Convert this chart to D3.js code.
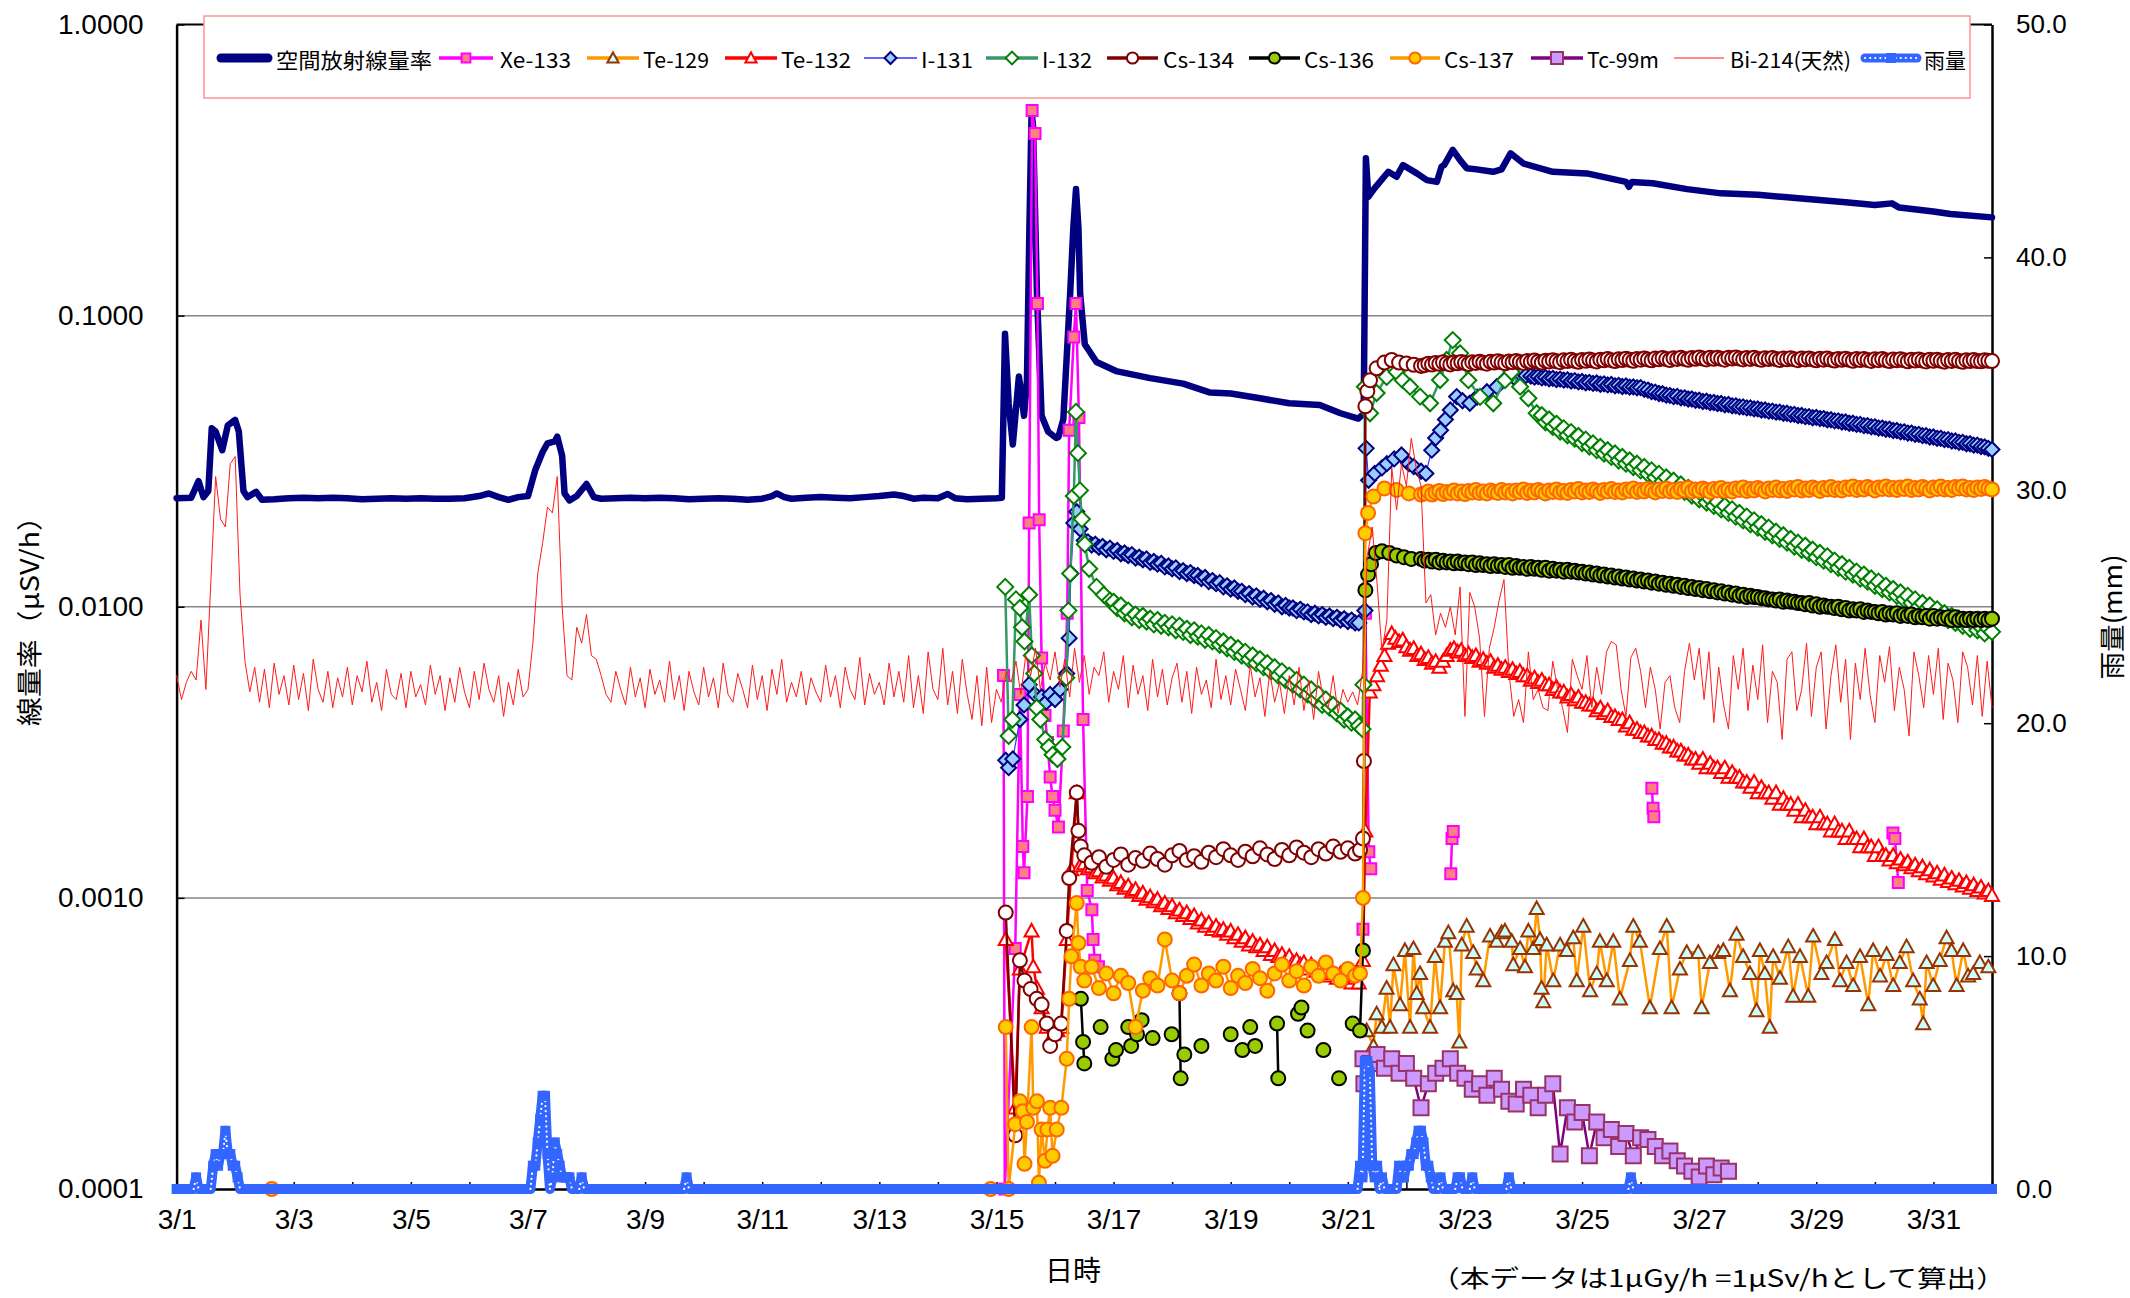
<!DOCTYPE html>
<html><head><meta charset="utf-8">
<script src="https://cdn.jsdelivr.net/npm/d3@7"></script>
<style>body{margin:0;background:#fff}</style>
</head><body>
<svg id="chart" width="2130" height="1298"></svg>
<script>
// ---------------- DATA (time = hours since 3/1 00:00) ----------------
const xTickLabels = ["3/1","3/3","3/5","3/7","3/9","3/11","3/13","3/15","3/17","3/19","3/21","3/23","3/25","3/27","3/29","3/31"];
const yTickValues = [0.0001,0.001,0.01,0.1,1];
const yTickLabels = ["0.0001","0.0010","0.0100","0.1000","1.0000"];
const rainTickValues = [0,10,20,30,40,50];
const rainTickLabels = ["0.0","10.0","20.0","30.0","40.0","50.0"];
const seriesNames = ["空間放射線量率","Xe-133","Te-129","Te-132","I-131","I-132","Cs-134","Cs-136","Cs-137","Tc-99m","Bi-214(天然)","雨量"];

// regular sampling helper: start hour, step hours, read values
const seg = (h0, step, vals) => vals.map((v, i) => [h0 + i * step, v]);

const doseData = [[0,.0236],[6,.0237],[9,.0270],[11,.0238],[13,.0250],[14.4,.0410],[16,.0400],[18.7,.0345],[21,.0420],[24,.0438],[25.5,.0400],[27.4,.0250],[29,.0238],[32.6,.0248],[35,.0233],[40,.0234],[46,.0236],[52,.0237],[58,.0236],[64,.0237],[70,.0236],[76,.0234],[82,.0235],[88,.0236],[94,.0235],[100,.0236],[106,.0235],[112,.0235],[118,.0236],[124,.0240],[128,.0245],[132,.0238],[136,.0233],[140,.0238],[144,.0240],[147,.0295],[150,.0340],[152,.0364],[155,.0370],[156,.0384],[158,.0330],[159,.0245],[161,.0232],[164,.0240],[168,.0264],[171,.0238],[174,.0235],[180,.0236],[186,.0237],[192,.0236],[198,.0237],[204,.0236],[210,.0234],[216,.0235],[222,.0236],[228,.0235],[234,.0233],[240,.0235],[244,.0240],[246,.0245],[249,.0238],[252,.0235],[258,.0237],[264,.0238],[270,.0237],[276,.0236],[282,.0238],[288,.0240],[294,.0243],[298,.0240],[302,.0235],[306,.0237],[312,.0236],[316,.0244],[319,.0236],[324,.0234],[330,.0235],[336,.0236],[338.2,.0237],[339.5,.0867],[341,.0500],[342.7,.0361],[345.2,.0618],[347.3,.0453],[348.5,.0600],[349.5,.2000],[350.4,.5000],[351,.4500],[352.6,.1190],[354.5,.0453],[357.2,.0399],[360.5,.0380],[361.4,.0383],[363.4,.0440],[366.2,.1190],[367.5,.2000],[368.6,.2720],[369.6,.2000],[370.3,.1190],[372.2,.0797],[377,.0693],[385,.0645],[399,.0610],[412.5,.0584],[423.6,.0544],[432,.0540],[444,.0520],[456,.0500],[468.5,.0493],[477,.0462],[484.3,.0443],[486.5,.0460],[487.4,.3470],[488.4,.2560],[491,.2740],[496.6,.3120],[500,.3000],[502.6,.3290],[508.3,.3080],[512.4,.2920],[516.5,.2880],[518.4,.3250],[519.6,.3300],[523,.3710],[526,.3420],[528.7,.3210],[532.8,.3180],[539.5,.3120],[543,.3180],[546.7,.3610],[552,.3330],[564,.3120],[578,.3080],[594,.2880],[595.2,.2770],[596.4,.2880],[605,.2850],[619,.2720],[633,.2630],[648,.2600],[660,.2550],[672,.2500],[684,.2450],[696,.2400],[703,.2430],[706,.2350],[720,.2280],[727,.2234],[744,.2175]];

const xe133 = [[338.9,.0058],[339.4,.0001],[343.7,.00067],[345.6,.0050],[346.8,.0015],[347.3,.00122],[348.7,.00223],[349.4,.0194],[350.6,.507],[351.8,.422],[352.8,.110],[353.5,.0199],[354.5,.00667],[355.9,.00423],[356.9,.00342],[358,.0026],[359,.00223],[360,.0020],[361.4,.00175],[363.4,.00374],[365,.0095],[365.8,.0404],[367.7,.0844],[368.6,.110],[369.8,.0447],[371.5,.0041],[373.2,.00106],[375.1,.00091],[375.6,.00072],[376.3,.00061],[377.8,.00058],null,
 [486.2,.00078],[487.2,.0095],[488.6,.00144],[489.4,.00126],null,
 [522.2,.00121],[522.7,.0016],[523.2,.00169],null,
 [604.6,.00238],[605.1,.00203],[605.4,.0019],null,
 [703.4,.00167],[704.2,.0016],[705.6,.00113]];

const te129 = [[487.7,.00035],[490.5,.00031],[491.8,.00040],[493.9,.00036],[495.9,.00049],[497.3,.00036],[498.7,.00059],[501.4,.00043],[503.4,.00066],[505.5,.00036],[506.9,.00067],[508.2,.00047],[509.6,.00055],[510.9,.00042],[513.7,.00036],[515.7,.00063],[517.8,.00042],[519.8,.00071],[521.2,.00076],[523.2,.00048],[524.6,.00047],[525.7,.00032],[526.7,.00069],[528.7,.00080],[531.4,.00065],[532.8,.00057],[535.5,.00052],[538.3,.00074],[541.0,.00071],[543.0,.00076],[544.4,.00077],[547.2,.00071],[547.8,.00059],[550.6,.00067],[552.6,.00058],[554.0,.00077],[556.0,.00067],[557.4,.00092],[558.8,.00072],[559.4,.00049],[560.1,.00044],[561.5,.00069],[564.2,.00052],[567.0,.00069],[569.7,.00066],[572.4,.00073],[573.8,.00052],[576.5,.00080],[579.3,.00048],[582.0,.00055],[583.3,.00071],[586.1,.00052],[588.8,.00071],[591.5,.00045],[595.6,.00061],[597.0,.00080],[599.7,.00071],[603.8,.00042],[607.9,.00067],[610.7,.00080],[612.7,.00042],[616.1,.00057],[618.9,.00065],[623.6,.00065],[625.0,.00042],[628.4,.00060],[631.8,.00065],
 [633.9,.00066],[636.6,.00048],[639.3,.00075],[642.0,.00063],[644.8,.00055],[647.5,.00041],[648.9,.00066],[650.9,.00055],[652.9,.00036],[654.3,.00063],[657.1,.00053],[660.5,.00068],[662.5,.00046],[665.3,.00063],[668.7,.00046],[670.7,.00074],[674.1,.00055],[676.2,.00060],[679.6,.00072],[681.7,.00052],[684.4,.00060],[687.1,.00050],[689.9,.00063],[693.3,.00043],[695.3,.00066],[698.1,.00054],[700.8,.00064],[703.5,.00050],[706.2,.00060],[709.0,.00068],[711.7,.00052],[714.4,.00045],[715.8,.00037],[717.2,.00060],[719.9,.00050],[722.6,.00061],[725.4,.00073],[727.4,.00066],[729.5,.00050],[732.2,.00066],[734.2,.00054],[736.3,.00055],[739.0,.00060],[742.5,.00058]];

const te132 = [[339.8,.00072],[343.7,.00019],[345.6,.00057],[350.4,.00077],[351.1,.00058],[352.6,.00049],[354.5,.00042],[356.6,.00036],[359.3,.00034],[361,.00035],[362.6,.00036],[364.8,.00072],[366.7,.00125],[368.9,.0023],[370.3,.00129],
 ...seg(372,1.5,[.00131,.00126,.00128,.00122,.00124,.00118,.00120,.00115,.00117,.00111,
  .00113,.00108,.00110,.00105,.00107,.00102,.00104,.00099,.00101,.00097,
  .00099,.00094,.00096,.00092,.00094,.00089,.00091,.00087,.00089,.00085,
  .00087,.00082,.00084,.00080,.00082,.00078,.00080,.00077,.00078,.00075,
  .00077,.00073,.00075,.00071,.00073,.00069,.00071,.00068,.00069,.00066,
  .00068,.00064,.00066,.00063,.00064,.00061,.00063,.00060,.00061,.00059,
  .00060,.00057,.00059,.00056,.00057,.00055,.00056,.00054,.00055,.00053,
  .00055,.00052,.00054,.00051,.00053,.00051]),
 [486.2,.00061],[487.2,.0017],
 ...seg(489,1.5,[.0051,.0054,.0058,.0063,.0068,.0075,.0081,.0078,.0076,.0077,
  .0073,.0071,.0072,.0068,.0069,.0066,.0067,.0064,.0065,.0062,
  .0065,.0068,.0071,.0072,.0070,.0071,.0068,.0069,.0067,.0068,
  .0065,.0066,.0064,.0065,.0062,.0063,.0061,.0062,.0060,.0061,
  .0059,.0060,.0058,.0058,.0056,.0057,.0055,.0056,.0054,.0054,
  .0052,.0053,.0051,.0051,.0049,.0050,.0048,.0049,.0047,.0047,
  .0046,.0046,.0044,.0045,.0043,.0044,.0042,.0042,.0041,.0041,
  .0039,.0040,.0038,.0038,.0037,.0037,.0036,.0036,.0035,.0035,
  .0034,.0034,.0033,.0033,.0032,.0032,.0031,.0031,.0030,.0030,
  .0029,.0030,.0028,.0029,.0028,.0028,.0027,.0028,.0026,.0027,
  .0026,.0026,.0025,.0025,.0024,.0025,.0023,.0024,.0023,.0023,
  .0022,.0023,.0021,.0022,.0021,.0021,.0020,.0021,.0019,.0020,
  .0019,.0019,.0018,.0019,.0018,.0018,.0017,.0018,.0017,.0017,
  .0016,.0017,.0016,.0016,.0015,.0016,.0015,.0015,.0014,.0015,
  .0014,.0014,.00135,.0014,.00132,.00136,.0013,.00133,.00127,.0013,
  .00124,.00128,.00121,.00125,.00119,.00122,.00116,.0012,.00114,.00117,
  .00112,.00115,.0011,.00113,.00108,.00111,.00106,.00109,.00104,.00106,
  .00102])];

const i131 = [[339.8,.00297],[341,.0028],[342.7,.0030],[345.6,.0041],[347.3,.0046],[349.4,.0054],[351.8,.0050],[354.5,.0049],[356.4,.0047],[358,.0050],[360,.0048],[362,.0052],[364.8,.0059],[365.8,.0078],[366.5,.013],[367.7,.0194],[368.9,.0212],[370.3,.0185],[372,.0169],
 ...seg(373.5,1.5,[.0167,.0163,.0164,.0160,.0161,.0157,.0159,.0155,.0156,.0152,
  .0153,.0150,.0151,.0147,.0148,.0145,.0146,.0142,.0143,.0140,
  .0141,.0137,.0138,.0135,.0136,.0132,.0133,.0130,.0131,.0128,
  .0128,.0125,.0126,.0122,.0123,.0120,.0121,.0117,.0118,.0115,
  .0116,.0113,.0113,.0110,.0111,.0108,.0109,.0106,.0107,.0104,
  .0105,.0102,.0103,.0100,.0101,.0099,.0099,.0097,.0098,.0096,
  .0096,.0094,.0095,.0093,.0094,.0092,.0093,.0091,.0092,.0090,
  .0091,.0089,.0090,.0088,.0088]),
 [487,.0097],[487.5,.035],[488.5,.0272],[491,.0287],[494,.030],[496,.031],[499,.0322],[502,.0332],[505,.031],[507,.0303],[510,.0292],[512,.0287],[514.4,.0345],[516,.0380],[518,.0404],[520,.0440],[522,.0474],[524.6,.0527],[527,.0510],[530,.0500],[533,.0525],[537,.0548],[541,.057],[545,.061],[548,.0615],[551,.0626],[553,.0622],
 ...seg(555,1.5,[.0620,.0615,.0617,.0611,.0613,.0607,.0609,.0603,.0605,.0600,
  .0602,.0596,.0598,.0592,.0594,.0588,.0590,.0585,.0587,.0581,
  .0583,.0578,.0580,.0574,.0576,.0571,.0573,.0568,.0569,.0565,
  .0566,.0558,.0555,.0548,.0546,.0540,.0539,.0533,.0532,.0527,
  .0528,.0522,.0522,.0517,.0517,.0512,.0512,.0507,.0508,.0503,
  .0503,.0499,.0499,.0494,.0495,.0490,.0490,.0486,.0486,.0482,
  .0482,.0478,.0478,.0474,.0474,.0470,.0470,.0466,.0466,.0462,
  .0462,.0458,.0458,.0454,.0454,.0450,.0450,.0446,.0447,.0443,
  .0443,.0439,.0439,.0435,.0435,.0431,.0431,.0427,.0427,.0423,
  .0423,.0419,.0419,.0415,.0415,.0411,.0411,.0407,.0407,.0403,
  .0403,.0399,.0399,.0395,.0395,.0391,.0391,.0387,.0387,.0383,
  .0383,.0379,.0379,.0375,.0375,.0371,.0371,.0367,.0367,.0363,
  .0363,.0359,.0359,.0355,.0354,.0350,.0347])];

const i132 = [[339.6,.0117],[341,.0036],[342.5,.0041],[344,.0106],[345.6,.0099],[346.5,.0085],[347.5,.0076],[349.4,.011],[350.5,.0068],[351.5,.0059],[352.5,.0045],[354,.0041],[356,.0035],[357.5,.0033],[359,.0031],[361,.0030],[363,.0033],[364.6,.0057],[365.5,.0097],[366.2,.013],[367.7,.024],[368.6,.0467],[369.4,.0337],[370.2,.0251],[371,.020],[372.2,.0164],[374,.0135],[377,.0117],[380,.0110],[382.5,.0105],
 ...seg(384,1.5,[.0104,.0099,.0101,.0095,.0097,.0092,.0094,.0090,.0093,.0089,
  .0091,.0087,.0090,.0086,.0088,.0085,.0087,.0083,.0086,.0082,
  .0084,.0080,.0083,.0079,.0081,.0077,.0080,.0076,.0078,.0074,
  .0076,.0072,.0074,.0070,.0072,.0068,.0070,.0066,.0068,.0064,
  .0066,.0062,.0064,.0060,.0062,.0058,.0060,.0056,.0058,.0054,
  .0056,.0052,.0054,.0050,.0052,.0048,.0050,.0046,.0048,.0045,
  .0046,.0043,.0044,.0041,.0042,.0040,.0041,.0039]),
 [486,.0038],[486.4,.0054],[487,.057],[489.1,.0462],[491.8,.0542],[495.9,.0616],[500,.064],[502.5,.060],[505.5,.057],[509.6,.0527],[513.7,.050],[517.8,.0601],[520.5,.0704],[523,.0824],[526,.0742],[529.4,.060],[534.2,.0526],[539.6,.050],[544.4,.060],[547.1,.064],[550.6,.057],[554,.052],[557.4,.0462],
 ...seg(559.5,1.5,[.0455,.0430,.0440,.0415,.0425,.0400,.0410,.0388,.0398,.0378,
  .0386,.0365,.0375,.0355,.0364,.0345,.0354,.0336,.0345,.0327,
  .0336,.0318,.0327,.0310,.0318,.0302,.0310,.0294,.0302,.0286,
  .0294,.0278,.0286,.0270,.0278,.0262,.0271,.0255,.0263,.0248,
  .0256,.0241,.0249,.0234,.0242,.0228,.0235,.0222,.0229,.0216,
  .0222,.0210,.0216,.0204,.0210,.0198,.0204,.0192,.0198,.0187,
  .0192,.0181,.0187,.0176,.0181,.0171,.0176,.0166,.0171,.0161,
  .0166,.0157,.0162,.0153,.0157,.0148,.0153,.0144,.0149,.0140,
  .0144,.0136,.0140,.0132,.0136,.0129,.0132,.0125,.0129,.0122,
  .0125,.0118,.0122,.0115,.0118,.0112,.0115,.0109,.0112,.0106,
  .0109,.0103,.0106,.0100,.0103,.0098,.0101,.0095,.0098,.0093,
  .0095,.0090,.0093,.0088,.0091,.0086,.0089,.0084,.0087,.0083,
  .0085,.0081,.0084,.0082])];

const cs134 = [[339.8,.00089],[343.7,.000153],[345.6,.00061],[347.5,.00052],[350,.000486],[352.5,.00045],[354.5,.00043],[356.6,.00037],[358,.00031],[360,.00034],[362.5,.00037],[364.8,.00077],[365.8,.00117],[368.9,.0023],[369.6,.0017],[370.5,.0015],
 ...seg(372,3,[.0014,.00132,.00138,.00128,.00135,.00141,.0013,.00137,.00134,.00142,
  .00136,.0013,.0014,.00145,.00135,.00139,.00133,.00143,.00138,.00147,
  .0014,.00135,.00144,.00139,.00148,.00141,.00136,.00146,.0014,.00149,
  .00143,.00138,.00147,.00142,.0015,.00144,.00148,.00142]),
 [485,.00146],[486.2,.0016],[486.6,.00295],[487.2,.0488],[488,.055],[489.1,.060],[491.8,.0659],[495,.069],[498,.0704],[501,.069],[504,.0685],[507,.0678],[510,.0672],
 ...seg(511.5,1.5,[.0676,.0684,.0679,.0688,.0683,.0691,.0685,.0680,.0690,.0686,
  .0693,.0687,.0682,.0692,.0688,.0695,.0689,.0684,.0694,.0690,
  .0697,.0691,.0686,.0696,.0692,.0699,.0693,.0688,.0698,.0694,
  .0701,.0695,.0690,.0700,.0696,.0703,.0697,.0692,.0702,.0698,
  .0705,.0699,.0694,.0704,.0700,.0707,.0701,.0696,.0706,.0702,
  .0709,.0703,.0698,.0708,.0704,.0711,.0705,.0700,.0710,.0706,
  .0713,.0707,.0702,.0712,.0708,.0715,.0709,.0704,.0714,.0710,
  .0716,.0710,.0705,.0715,.0711,.0718,.0712,.0707,.0716,.0711,
  .0717,.0711,.0706,.0716,.0712,.0718,.0712,.0707,.0715,.0710,
  .0716,.0710,.0705,.0714,.0709,.0715,.0709,.0704,.0713,.0708,
  .0714,.0708,.0703,.0712,.0707,.0713,.0707,.0702,.0711,.0706,
  .0712,.0706,.0701,.0710,.0705,.0711,.0705,.0700,.0709,.0704,
  .0710,.0704,.0699,.0708,.0703,.0709,.0703,.0698,.0707,.0702,
  .0708,.0702,.0697,.0706,.0701,.0707,.0701,.0696,.0705,.0700,
  .0706,.0700,.0695,.0704,.0699,.0705,.0699,.0694,.0703,.0698,
  .0704,.0698,.0697,.0702,.0700,.0698])];

const cs136 = [[370.6,.00045],[371.5,.00032],[372,.00027],null,[378.7,.00036],null,[383.5,.00028],null,[385,.0003],null,[390,.00036],null,[391.2,.00031],null,[393.6,.00034],null,[395.5,.00038],null,[400,.00033],null,[407.8,.00034],null,[411,.00047],[411.5,.00024],null,[413,.00029],null,[420,.00031],null,[432,.00034],null,[436.8,.0003],null,[440,.00036],null,[442,.00031],null,[451,.00037],[451.5,.00024],null,[459.6,.0004],null,[461,.00042],null,[463.5,.00035],null,[470,.0003],null,[476.4,.00024],null,[482,.00037],null,
 [485,.00035],[486.2,.00066],[487.2,.0114],[488.3,.0129],[489.5,.014],[491.5,.0153],[494,.0155],[497,.0153],[500,.015],[503,.0148],[506,.0146],
 ...seg(510,1.5,[.0146,.0144,.0145,.0143,.0145,.0142,.0144,.0142,.0143,.0141,
  .0143,.0141,.0142,.0140,.0142,.0139,.0141,.0139,.0140,.0138,
  .0140,.0138,.0139,.0137,.0139,.0136,.0138,.0136,.0137,.0135,
  .0137,.0135,.0136,.0134,.0136,.0133,.0135,.0133,.0134,.0132,
  .0134,.0132,.0133,.0131,.0132,.0130,.0131,.0129,.0130,.0128,
  .0129,.0127,.0128,.0126,.0127,.0125,.0126,.0124,.0125,.0123,
  .0124,.0122,.0123,.0121,.0122,.0120,.0121,.0119,.0120,.0118,
  .0119,.0117,.0118,.0116,.0117,.0115,.0116,.0114,.0115,.0113,
  .0114,.0112,.0113,.0111,.0112,.0110,.0111,.0109,.0110,.0108,
  .0109,.0108,.0108,.0107,.0107,.0106,.0106,.0105,.0106,.0104,
  .0105,.0104,.0104,.0103,.0103,.0102,.0103,.0101,.0102,.0100,
  .0101,.0100,.0100,.0099,.0100,.0098,.0099,.0097,.0098,.0097,
  .0098,.0096,.0097,.0096,.0096,.0095,.0096,.0094,.0095,.0094,
  .0095,.0093,.0094,.0093,.0094,.0092,.0093,.0092,.0093,.0091,
  .0093,.0091,.0092,.0091,.0092,.0090,.0092,.0090,.0091,.0090,
  .0091,.0090,.0091,.0090,.0091,.0090,.0091])];

const cs137 = [[39,.0001],null,[333.6,.0001],null,
 [339.8,.00036],[341,.0001],[343.7,.000167],[345.6,.0002],[346.8,.000185],[347.5,.000122],[348.5,.00017],[350.4,.00036],[351.1,.00019],[352.6,.0002],[353.4,.000105],[354.5,.00016],[355.9,.000125],[356.9,.00016],[358,.00019],[359,.00013],[360.7,.00016],[362.6,.00019],[364.8,.00028],[365.8,.00045],[366.7,.00063],[368.9,.00096],[369.6,.0007],[370.5,.00058],
 ...seg(372,3,[.00052,.00058,.00049,.00055,.00047,.00054,.00051,.00036,.00048,.00053,
  .0005,.00072,.00052,.00047,.00054,.00059,.0005,.00055,.00052,.00058,
  .00049,.00054,.00051,.00057,.00053,.00048,.00055,.00059,.00052,.00056,
  .0005,.00058,.00054,.0006,.00055,.00052,.00057,.00054]),
 [485,.00055],[486.2,.001],[487.2,.0179],[488.3,.021],[490.5,.0239],[495,.0255],[500,.0252],[505,.0245],[510,.0243],
 ...seg(511.5,1.5,[.0245,.0249,.0243,.0247,.0250,.0244,.0248,.0246,.0251,.0245,
  .0249,.0244,.0250,.0247,.0252,.0246,.0249,.0245,.0251,.0248,
  .0246,.0252,.0247,.0250,.0245,.0251,.0248,.0253,.0246,.0250,
  .0247,.0252,.0249,.0245,.0251,.0248,.0253,.0247,.0250,.0246,
  .0252,.0249,.0254,.0247,.0251,.0248,.0253,.0250,.0246,.0252,
  .0249,.0254,.0248,.0251,.0247,.0253,.0250,.0255,.0248,.0252,
  .0249,.0254,.0251,.0247,.0253,.0250,.0255,.0249,.0252,.0248,
  .0254,.0251,.0256,.0249,.0253,.0250,.0255,.0252,.0248,.0254,
  .0251,.0256,.0250,.0253,.0249,.0255,.0252,.0257,.0250,.0254,
  .0251,.0256,.0253,.0249,.0255,.0252,.0257,.0251,.0254,.0250,
  .0256,.0253,.0258,.0251,.0255,.0252,.0257,.0254,.0250,.0256,
  .0253,.0258,.0252,.0255,.0251,.0257,.0254,.0259,.0252,.0256,
  .0253,.0258,.0255,.0251,.0257,.0254,.0259,.0253,.0256,.0252,
  .0257,.0254,.0259,.0252,.0256,.0253,.0258,.0255,.0251,.0257,
  .0254,.0259,.0253,.0256,.0252,.0258,.0255,.0259,.0253,.0256,
  .0252,.0257,.0254,.0258,.0255,.0253])];

const tc99m = [[486.2,.00028],[486.6,.00023],
 ...seg(489,3,[.00027,.00029,.00026,.00028,.00025,.00027,.00024,.00019,.00023,.00025,
  .00026,.00028,.00025,.00024,.00022,.00023,.00021,.00024,.00022,.0002,
  .000196,.00022,.00021,.00019,.00021,.00023,.000132,.00019,.00017,.000183,
  .00013,.00017,.00015,.00016,.00014,.000155,.00013,.00015,.000148,.00014,
  .00013,.000135,.000125,.00012,.000115,.00011,.00012,.000112,.000118,.000115])];

// Bi-214 on a 2-hour grid
const bi214 = seg(0,2,[
 .0058,.0048,.0055,.0060,.0056,.0090,.0052,.0120,.0280,.0200,.0188,.0310,
 .0328,.0110,.0065,.0051,.0062,.0047,.0061,.0045,.0064,.0050,.0058,.0046,
 .0063,.0048,.0059,.0044,.0066,.0052,.0047,.0060,.0045,.0057,.0049,.0062,
 .0046,.0058,.0051,.0065,.0047,.0055,.0044,.0061,.0050,.0048,.0059,.0045,
 .0060,.0049,.0054,.0046,.0063,.0050,.0058,.0044,.0057,.0047,.0062,.0051,
 .0045,.0060,.0048,.0064,.0052,.0047,.0058,.0042,.0055,.0046,.0061,.0049,
 .0052,.0075,.0130,.0165,.0220,.0210,.0280,.0100,.0058,.0056,.0085,.0075,
 .0094,.0068,.0066,.0058,.0050,.0047,.0060,.0052,.0046,.0062,.0049,.0057,
 .0045,.0061,.0050,.0056,.0047,.0065,.0048,.0058,.0044,.0060,.0051,.0046,
 .0062,.0049,.0057,.0045,.0064,.0050,.0047,.0059,.0052,.0045,.0063,.0048,
 .0058,.0044,.0061,.0050,.0066,.0047,.0055,.0049,.0060,.0046,.0057,.0051,
 .0047,.0063,.0049,.0058,.0045,.0062,.0052,.0048,.0067,.0046,.0059,.0050,
 .0055,.0046,.0064,.0049,.0060,.0047,.0068,.0045,.0058,.0043,.0070,.0052,
 .0048,.0072,.0046,.0060,.0043,.0066,.0050,.0041,.0058,.0039,.0062,.0040,
 .0052,.0047,.0060,.0055,.0065,.0050,.0068,.0058,.0072,.0052,.0064,.0056,
 .0070,.0053,.0066,.0049,.0072,.0055,.0068,.0050,.0062,.0058,.0070,.0047,
 .0060,.0052,.0068,.0045,.0063,.0050,.0058,.0044,.0066,.0049,.0061,.0046,
 .0057,.0064,.0047,.0060,.0043,.0062,.0050,.0056,.0045,.0066,.0048,.0058,
 .0046,.0061,.0052,.0044,.0063,.0049,.0057,.0042,.0060,.0047,.0055,.0043,
 .0058,.0046,.0062,.0044,.0056,.0041,.0060,.0048,.0045,.0058,.0043,.0052,
 .0047,.0051,.0046,.0060,.0150,.0188,.0120,.0070,.0090,.0300,.0215,.0310,
 .0260,.0379,.0300,.0260,.0103,.0110,.0080,.0095,.0085,.0100,.0080,.0117,
 .0042,.0112,.0100,.0078,.0042,.0072,.0085,.0105,.0124,.0060,.0042,.0048,
 .0040,.0070,.0048,.0052,.0045,.0044,.0065,.0052,.0045,.0037,.0066,.0058,
 .0052,.0068,.0045,.0062,.0050,.0070,.0076,.0074,.0052,.0042,.0067,.0072,
 .0060,.0045,.0062,.0052,.0038,.0055,.0058,.0045,.0040,.0060,.0075,.0056,
 .0072,.0048,.0070,.0040,.0062,.0046,.0038,.0068,.0052,.0072,.0044,.0063,
 .0048,.0074,.0040,.0060,.0055,.0035,.0066,.0070,.0044,.0052,.0075,.0042,
 .0062,.0070,.0038,.0058,.0074,.0047,.0066,.0035,.0064,.0048,.0072,.0050,
 .0040,.0068,.0055,.0073,.0044,.0062,.0052,.0036,.0070,.0058,.0045,.0068,
 .0050,.0072,.0041,.0064,.0056,.0040,.0070,.0062,.0046,.0068,.0042,.0065,
 .0045]);

// rain (mm), secondary axis
const rain = [[0,0],[7,0],[8,0.5],[9,0],[14,0],[15,1.0],[16,1.5],[17,1.0],[18,1.5],[19,1.5],[20,2.5],[21,1.5],[22,1.5],[23,1.0],[24,1.0],[25,0.5],[26,0],[145,0],[146,1.0],[147,1.0],[148,2.0],[149,3.0],[150,4.0],[151,4.0],[152,1.5],[153,0],[154,0.5],[155,2.0],[156,1.5],[157,1.0],[158,0.5],[159,0.5],[160,0.5],[161,0.5],[162,0],[165,0],[166,0.5],[167,0],[208,0],[209,0.5],[210,0],[484,0],[485,1.0],[486,0.5],[487,5.5],[488,5.5],[489,5.0],[490,1.0],[491,0.5],[492,1.0],[493,0],[494,0.5],[495,0],[500,0],[501,1.0],[502,0.5],[503,0.5],[504,1.0],[505,1.0],[506,1.5],[507,1.5],[508,2.0],[509,2.5],[510,2.5],[511,2.0],[512,1.0],[513,1.0],[514,0.5],[515,0],[517,0],[518,0.5],[519,0],[524,0],[525,0.5],[526,0.5],[527,0],[530,0],[531,0.5],[532,0],[545,0],[546,0.5],[547,0],[595,0],[596,0.5],[597,0],[744,0]];

// ---------------- LAYOUT ----------------
const W = 2130, H = 1298;
const L = 176.6, R = 1992, T = 24.5, B = 1189;
const svg = d3.select("#chart");
const x = d3.scaleLinear().domain([0, 744]).range([L, R]);
const y = d3.scaleLog().domain([0.0001, 1]).range([B, T]);
const yR = d3.scaleLinear().domain([0, 50]).range([B, T]);
const LATIN = '"Liberation Sans", Arial, sans-serif';
const JP = '"Noto Sans CJK JP", "Noto Sans", sans-serif';

svg.append("rect").attr("width", W).attr("height", H).attr("fill", "#fff");

// gridlines
svg.append("g").selectAll("line").data([0.001, 0.01, 0.1]).join("line")
  .attr("x1", L).attr("x2", R).attr("y1", d => y(d)).attr("y2", d => y(d))
  .attr("stroke", "#858585").attr("stroke-width", 1.5);
svg.append("line").attr("x1", L).attr("x2", R).attr("y1", T).attr("y2", T)
  .attr("stroke", "#000").attr("stroke-width", 2);

// axes
function styleAxis(g, size) {
  g.select(".domain").attr("stroke", "#000").attr("stroke-width", 2.5);
  g.selectAll(".tick line").attr("stroke", "#000").attr("stroke-width", 1.5);
  g.selectAll("text").attr("font-family", LATIN).attr("font-size", size).attr("fill", "#000");
}
const dayTicks = d3.range(0, 745, 24);
const gxT = svg.append("g").attr("transform", `translate(0,${B})`)
  .call(d3.axisBottom(x).tickValues(dayTicks).tickFormat("").tickSize(-7).tickSizeOuter(0));
styleAxis(gxT, 28);
const labelHours = xTickLabels.map((_, i) => i * 48);
const gxL = svg.append("g").attr("transform", `translate(0,${B})`)
  .call(d3.axisBottom(x).tickValues(labelHours).tickFormat((d, i) => xTickLabels[i]).tickSize(0).tickPadding(20));
gxL.select(".domain").remove();
styleAxis(gxL, 28);

const gyL = svg.append("g").attr("transform", `translate(${L},0)`)
  .call(d3.axisLeft(y).tickValues(yTickValues).tickFormat((d, i) => yTickLabels[i]).tickSize(-8).tickSizeOuter(0).tickPadding(33));
styleAxis(gyL, 28);
const gyR = svg.append("g").attr("transform", `translate(${R},0)`)
  .call(d3.axisRight(yR).tickValues(rainTickValues).tickFormat((d, i) => rainTickLabels[i]).tickSize(-8).tickSizeOuter(0).tickPadding(24));
styleAxis(gyR, 26);

// marker shapes
function shapePath(type, s) {
  const h = s / 2;
  if (type === "square") return `M${-h},${-h}H${h}V${h}H${-h}Z`;
  if (type === "diamond") return `M0,${-h}L${h},0L0,${h}L${-h},0Z`;
  if (type === "triangle") return `M0,${-h}L${h},${h * 0.8}L${-h},${h * 0.8}Z`;
  return `M${h},0A${h},${h},0,1,1,${-h},0A${h},${h},0,1,1,${h},0Z`;
}

const styles = [
  {data: doseData, color: "#000080", lw: 6.5},
  {data: xe133, color: "#ff00ff", lw: 2.5, mk: "square", ms: 11, fill: "#ff8080", stroke: "#ff00ff"},
  {data: te129, color: "#ff9900", lw: 2.5, mk: "triangle", ms: 14, fill: "#ccffff", stroke: "#993300"},
  {data: te132, color: "#ff0000", lw: 2.5, mk: "triangle", ms: 14, fill: "#ffffff", stroke: "#ff0000"},
  {data: i131, color: "#3333ff", lw: 1.2, mk: "diamond", ms: 15, fill: "#99ccff", stroke: "#000080"},
  {data: i132, color: "#339966", lw: 2.5, mk: "diamond", ms: 16, fill: "#ffffff", stroke: "#008000"},
  {data: cs134, color: "#800000", lw: 2.5, mk: "circle", ms: 14, fill: "#ffffff", stroke: "#800000"},
  {data: cs136, color: "#000000", lw: 2.5, mk: "circle", ms: 14, fill: "#99cc00", stroke: "#000000"},
  {data: cs137, color: "#ff9900", lw: 2.5, mk: "circle", ms: 14, fill: "#ffcc00", stroke: "#ff6600"},
  {data: tc99m, color: "#800080", lw: 2.5, mk: "square", ms: 15, fill: "#cc99ff", stroke: "#993366"},
  {data: bi214, color: "#ff1a1a", lw: 1}
];

const lineGen = d3.line().defined(d => d && d[1] != null).x(d => x(d[0])).y(d => y(d[1]));
styles.forEach(s => {
  const g = svg.append("g");
  g.append("path").attr("d", lineGen(s.data)).attr("fill", "none")
    .attr("stroke", s.color).attr("stroke-width", s.lw)
    .attr("stroke-linejoin", "round").attr("stroke-linecap", "round");
  if (s.mk) {
    g.selectAll("path.m").data(s.data.filter(d => d && d[1] != null)).join("path")
      .attr("class", "m").attr("d", shapePath(s.mk, s.ms))
      .attr("transform", d => `translate(${x(d[0])},${y(d[1])})`)
      .attr("fill", s.fill).attr("stroke", s.stroke).attr("stroke-width", 2);
  }
});

// rain series
const RAIN = "#3366ff";
const rainLine = d3.line().x(d => x(d[0])).y(d => yR(d[1]));
const rg = svg.append("g");
rg.append("path").attr("d", rainLine(rain)).attr("fill", "none").attr("stroke", RAIN)
  .attr("stroke-width", 10).attr("stroke-linejoin", "round").attr("stroke-linecap", "square");
const wetSegs = d3.pairs(rain).filter(([a, b]) => a[1] > 0 || b[1] > 0);
rg.selectAll("line.dot").data(wetSegs).join("line").attr("class", "dot")
  .attr("x1", d => x(d[0][0])).attr("y1", d => yR(d[0][1]))
  .attr("x2", d => x(d[1][0])).attr("y2", d => yR(d[1][1]))
  .attr("stroke", "#fff").attr("stroke-width", 2.2).attr("stroke-linecap", "round")
  .attr("stroke-dasharray", "0.1 5");
rg.selectAll("rect").data(rain.filter(d => d[1] > 0)).join("rect")
  .attr("x", d => x(d[0]) - 5).attr("y", d => yR(d[1]) - 5).attr("width", 10).attr("height", 10)
  .attr("fill", RAIN);

// titles
svg.append("text").attr("transform", "translate(27,614) rotate(-90)")
  .attr("text-anchor", "middle").attr("dominant-baseline", "central")
  .attr("font-family", JP).attr("font-size", 26).attr("textLength", 224).attr("lengthAdjust", "spacingAndGlyphs")
  .text("線量率（μSV/h）");
svg.append("text").attr("transform", "translate(2110,617) rotate(-90)")
  .attr("text-anchor", "middle").attr("dominant-baseline", "central")
  .attr("font-family", JP).attr("font-size", 26).attr("textLength", 125).attr("lengthAdjust", "spacingAndGlyphs")
  .text("雨量(mm)");
svg.append("text").attr("x", 1073).attr("y", 1269).attr("text-anchor", "middle").attr("dominant-baseline", "central")
  .attr("font-family", JP).attr("font-size", 28).text("日時");
svg.append("text").attr("x", 1430).attr("y", 1276).attr("dominant-baseline", "central")
  .attr("font-family", JP).attr("font-size", 24).attr("textLength", 576).attr("lengthAdjust", "spacingAndGlyphs")
  .text("（本データは1μGy/h =1μSv/hとして算出）");

// legend
const lg = svg.append("g");
lg.append("rect").attr("x", 204).attr("y", 16).attr("width", 1766).attr("height", 82)
  .attr("fill", "#fff").attr("stroke", "#ff9a9a").attr("stroke-width", 1.6);
const LY = 58;
const legendLayout = [
  {x0: 217, x1: 272, tx: 276, tw: 156},
  {x0: 439, x1: 493, tx: 500, tw: 71},
  {x0: 587, x1: 639, tx: 643, tw: 66},
  {x0: 725, x1: 777, tx: 781, tw: 70},
  {x0: 864, x1: 917, tx: 921, tw: 52},
  {x0: 986, x1: 1038, tx: 1042, tw: 50},
  {x0: 1107, x1: 1158, tx: 1163, tw: 71},
  {x0: 1249, x1: 1300, tx: 1304, tw: 70},
  {x0: 1390, x1: 1440, tx: 1444, tw: 70},
  {x0: 1531, x1: 1583, tx: 1587, tw: 72},
  {x0: 1674, x1: 1724, tx: 1730, tw: 121},
  {x0: 1861, x1: 1921, tx: 1924, tw: 42}
];
legendLayout.forEach((p, i) => {
  const s = styles[i];
  if (i === 0) {
    lg.append("line").attr("x1", p.x0 + 4).attr("x2", p.x1 - 4).attr("y1", LY).attr("y2", LY)
      .attr("stroke", s.color).attr("stroke-width", 9).attr("stroke-linecap", "round");
  } else if (i === 11) {
    lg.append("line").attr("x1", p.x0 + 4).attr("x2", p.x1 - 4).attr("y1", LY).attr("y2", LY)
      .attr("stroke", RAIN).attr("stroke-width", 9).attr("stroke-linecap", "round");
    lg.append("line").attr("x1", p.x0 + 4).attr("x2", p.x1 - 4).attr("y1", LY).attr("y2", LY)
      .attr("stroke", "#fff").attr("stroke-width", 2.2).attr("stroke-linecap", "round").attr("stroke-dasharray", "0.1 5");
    lg.append("rect").attr("x", (p.x0 + p.x1) / 2 - 5).attr("y", LY - 5).attr("width", 10).attr("height", 10).attr("fill", RAIN);
  } else {
    lg.append("line").attr("x1", p.x0).attr("x2", p.x1).attr("y1", LY).attr("y2", LY)
      .attr("stroke", s.color).attr("stroke-width", i === 10 ? 1.2 : (i === 4 ? 1.5 : 3.5));
    if (s.mk) {
      lg.append("path").attr("d", shapePath(s.mk, s.ms * 0.8))
        .attr("transform", `translate(${(p.x0 + p.x1) / 2},${LY})`)
        .attr("fill", s.fill).attr("stroke", s.stroke).attr("stroke-width", 2);
    }
  }
  lg.append("text").attr("x", p.tx).attr("y", LY + 1).attr("dominant-baseline", "central")
    .attr("font-family", JP).attr("font-size", 21).attr("fill", "#000")
    .attr("textLength", p.tw).attr("lengthAdjust", "spacingAndGlyphs")
    .text(seriesNames[i]);
});
</script>
</body></html>
